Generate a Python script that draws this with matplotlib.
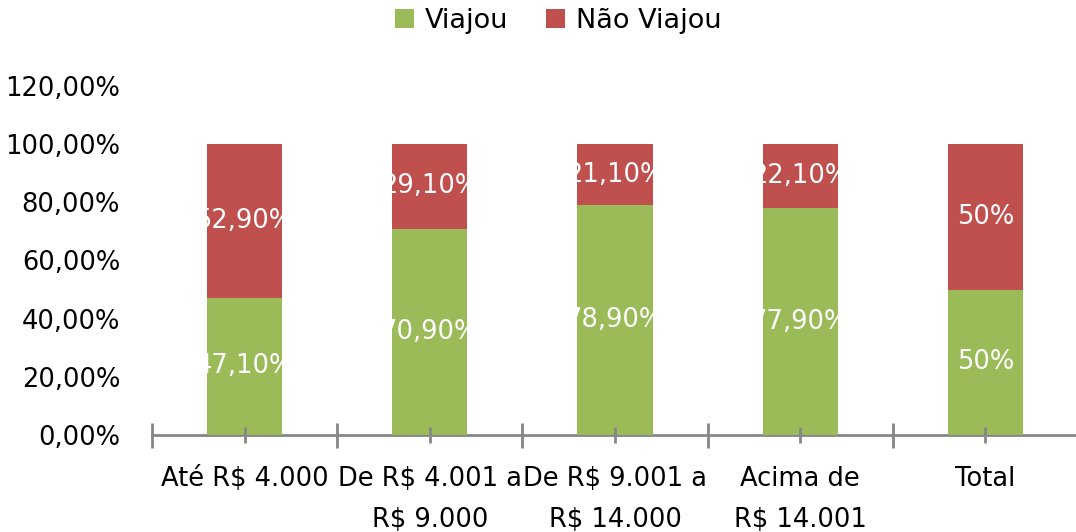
import matplotlib
matplotlib.use("Agg")
import matplotlib.pyplot as plt
import numpy as np

categories = ["Até R$ 4.000", "De R$ 4.001 a\nR$ 9.000", "De R$ 9.001 a\nR$ 14.000",
              "Acima de\nR$ 14.001", "Total"]
viajou = [47.1, 70.9, 78.9, 77.9, 50.0]
nao_viajou = [52.9, 29.1, 21.1, 22.1, 50.0]
viajou_labels = ["47,10%", "70,90%", "78,90%", "77,90%", "50%"]
nao_viajou_labels = ["52,90%", "29,10%", "21,10%", "22,10%", "50%"]
y_ticks = [0, 20, 40, 60, 80, 100, 120]

GREEN = "#9BBB59"
RED = "#C0504D"
AXIS = "#868686"
FS = 18.5

plt.rcParams["font.family"] = ["DejaVu Sans"]

fig = plt.figure(figsize=(10.76, 5.32), dpi=100)
ax = fig.add_axes([152 / 1076, 97 / 532, 926 / 1076, 349.2 / 532])

x = np.arange(len(categories))
w = 0.405
b1 = ax.bar(x, viajou, w, color=GREEN, label="Viajou")
b2 = ax.bar(x, nao_viajou, w, bottom=viajou, color=RED, label="Não Viajou")

for i in range(len(x)):
    ax.text(x[i], viajou[i] / 2, viajou_labels[i], ha="center", va="center",
            color="white", fontsize=FS)
    ax.text(x[i], viajou[i] + nao_viajou[i] / 2, nao_viajou_labels[i], ha="center",
            va="center", color="white", fontsize=FS)

ax.set_xlim(-0.5, len(x) - 0.5)
ax.set_ylim(0, 120)
ax.set_yticks(y_ticks)
ax.set_yticklabels([f"{v},00%" for v in y_ticks], fontsize=FS)
ax.tick_params(axis="y", length=0, pad=23)

ax.set_xticks(x)
ax.set_xticklabels(categories, fontsize=FS, linespacing=1.75, va="top")
ax.set_xticks(np.arange(-0.5, len(x)), minor=True)
ax.tick_params(axis="x", which="major", direction="inout", length=12, width=2,
               color=AXIS, pad=16.5)
ax.tick_params(axis="x", which="minor", direction="inout", length=18, width=2, color=AXIS)

for s in ["top", "right", "left"]:
    ax.spines[s].set_visible(False)
ax.spines["bottom"].set_color(AXIS)
ax.spines["bottom"].set_linewidth(2)
ax.spines["bottom"].set_zorder(0.5)

fig.legend(handles=[b1, b2], loc="upper center", bbox_to_anchor=(558 / 1076, 1.03),
           ncol=2, frameon=False, fontsize=19.5, handlelength=0.7, handleheight=0.7,
           handletextpad=0.4, columnspacing=1.4)

fig.savefig("out.png", dpi=100)
